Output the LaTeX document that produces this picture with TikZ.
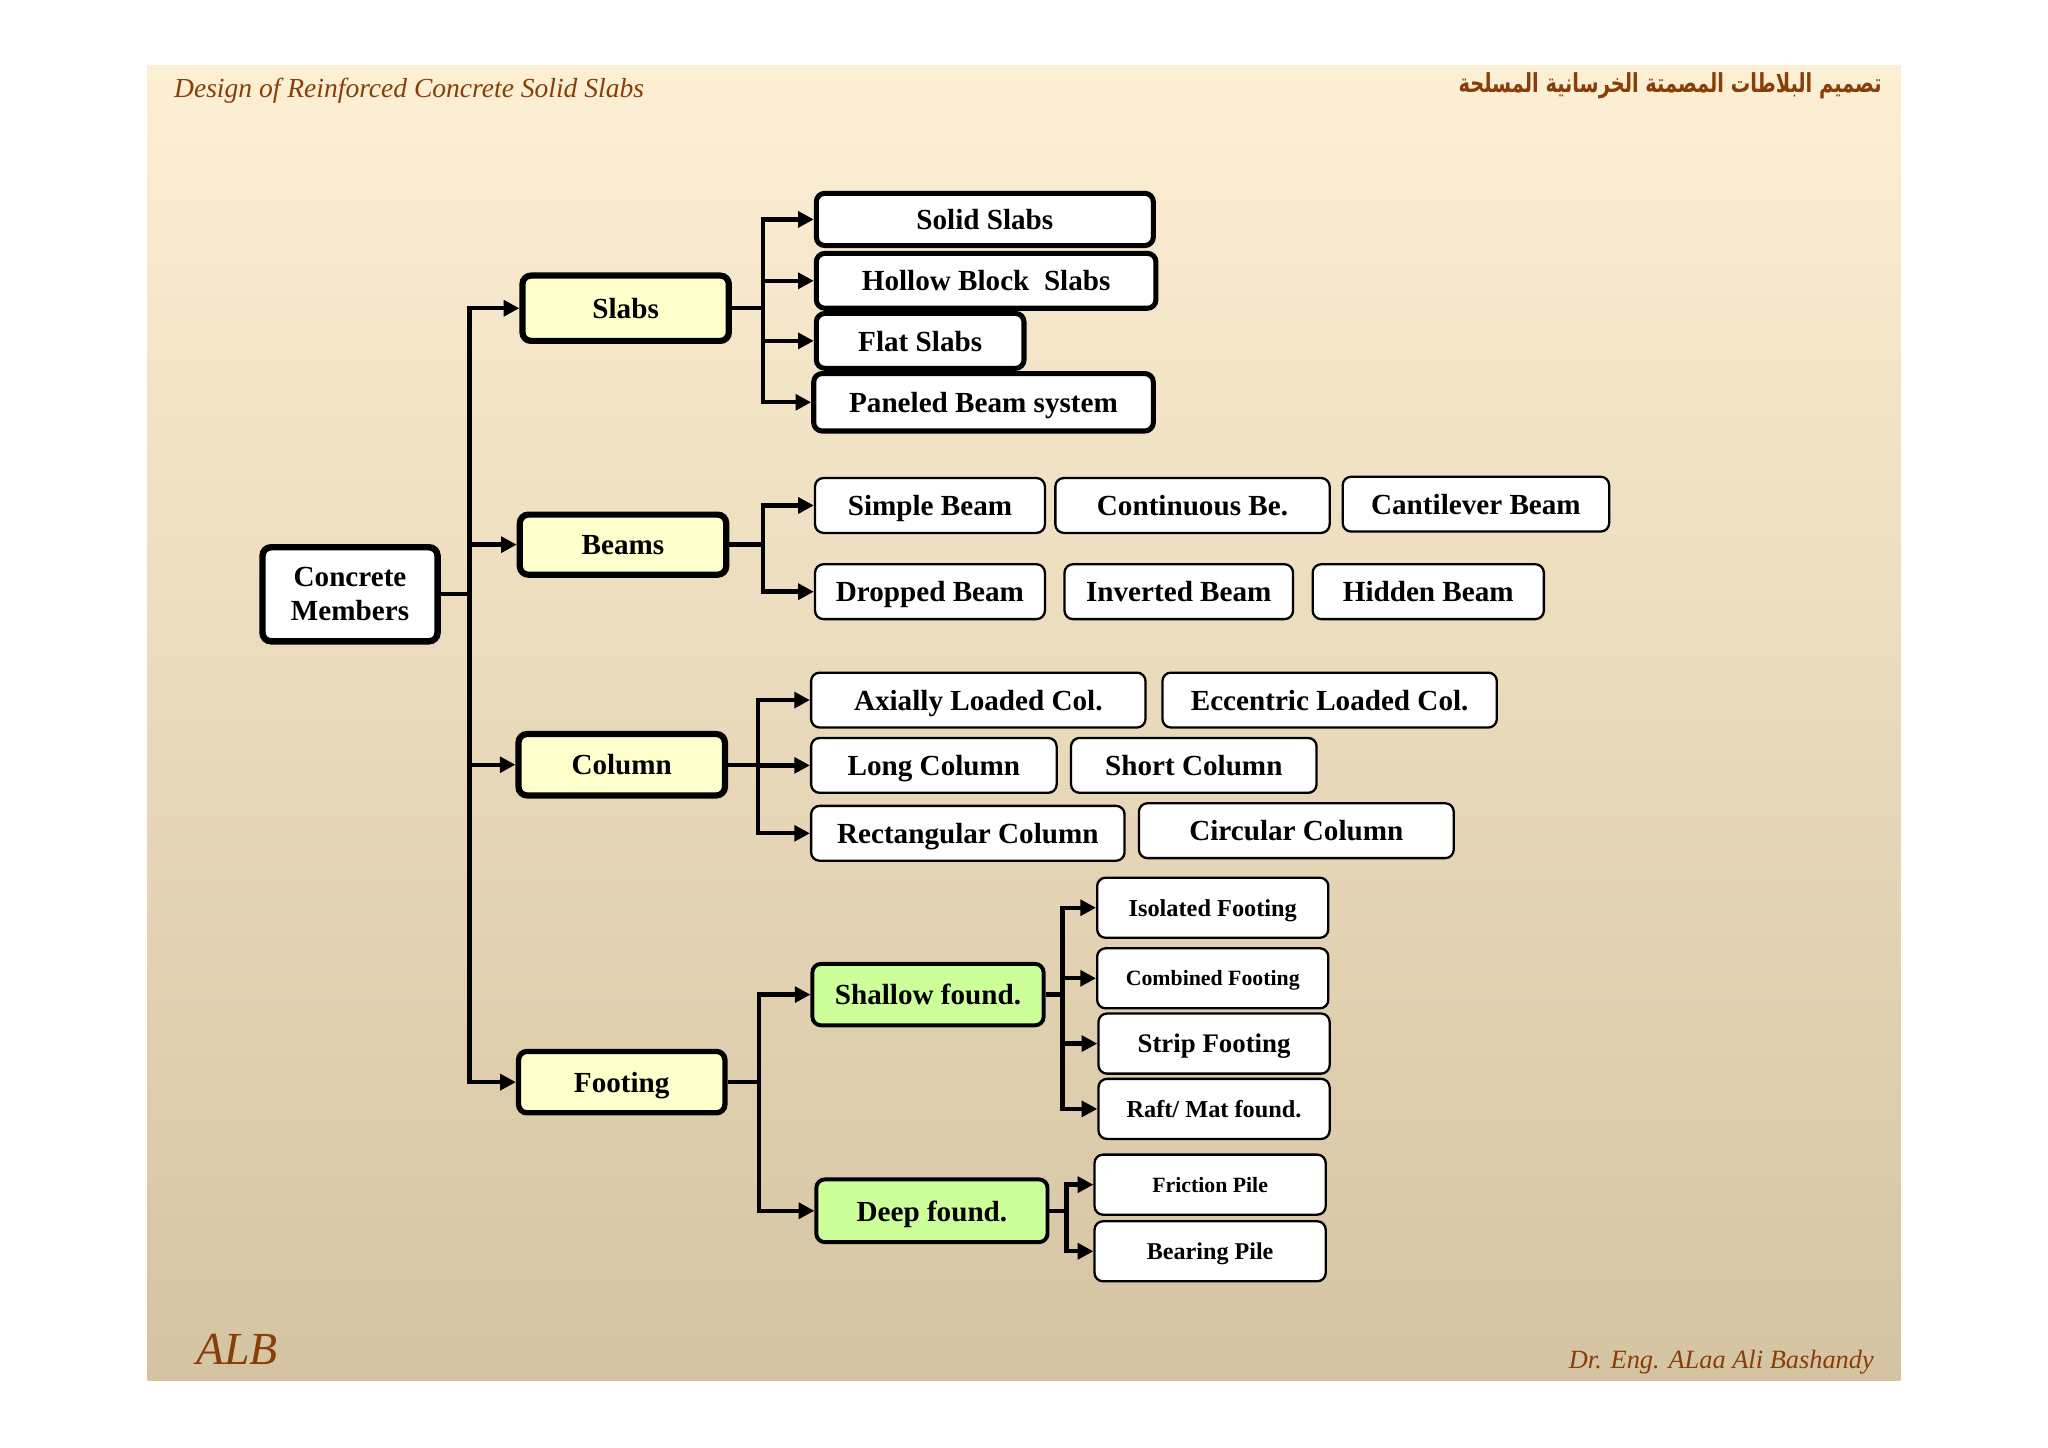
\documentclass[tikz,border=0pt]{standalone}
\usepackage{fontspec}
\usepackage{graphicx}
\setmainfont{Liberation Serif}
\newfontfamily\arabicfont[Script=Arabic]{DejaVu Sans}
\TeXXeTstate=1
\usetikzlibrary{arrows.meta}
\definecolor{bgtop}{RGB}{253,239,212}
\definecolor{bgmid}{RGB}{241,231,209}
\definecolor{bgbot}{RGB}{213,196,162}
\definecolor{yel}{RGB}{255,255,204}
\definecolor{grn}{RGB}{204,255,153}
\definecolor{brn}{RGB}{135,62,8}
\newcommand\placebox[7]{\node[#2, minimum width={(#5-#3)*0.02cm}, minimum height={(#6-#4)*0.02cm}] (#1) at ({(#3+#5)/2},{(#4+#6)/2}) {#7};}
\begin{document}
\begin{tikzpicture}[x=0.02cm,y=-0.02cm,
  basebox/.style={draw=black, inner sep=0pt, align=center, rounded corners=0.13cm,
    font=\bfseries\fontsize{12.7}{14.7}\selectfont},
  onebox/.style={basebox, text depth=0pt},
  mainbox/.style={basebox, fill=white, line width=2.8pt},
  lvlbox/.style={onebox, fill=yel, line width=2.7pt},
  footbox/.style={onebox, fill=yel, line width=2.3pt},
  slabbox/.style={onebox, fill=white, line width=2.2pt},
  thinbox/.style={onebox, fill=white, line width=1pt},
  grnbox/.style={onebox, fill=grn, line width=1.7pt},
  fsub/.style={onebox, fill=white, line width=1pt},
  conn/.style={draw=black, line width=1.9pt},
  arr/.style={conn, -{Triangle[length=0.24cm,width=0.24cm]}},
  hdr/.style={text=brn, inner sep=0pt}
]
\useasboundingbox (0,0) rectangle (1568,1108.6);
\fill[white] (0,0) rectangle (1568,1108.6);
\shade[top color=bgtop, middle color=bgmid, bottom color=bgbot] (113,50) rectangle (1455,1057);

% headers and footers
\node[hdr, anchor=base west, font=\itshape\fontsize{12}{14}\selectfont] (hdrL) at (133,75) {Design of Reinforced Concrete Solid Slabs};
\node[hdr, anchor=east] (hdrR) at (1441,66) {\scalebox{1}[1.35]{\resizebox{6.48cm}{!}{\arabicfont\bfseries\beginR تصميم البلاطات المصمتة الخرسانية المسلحة\endR}}};
\node[hdr, anchor=base west, font=\itshape\fontsize{20}{24}\selectfont] (alb) at (150,1045) {ALB};
\node[hdr, anchor=base east, font=\itshape\fontsize{11.5}{14}\selectfont] (auth) at (1435,1048) {Dr. Eng. ALaa Ali Bashandy};

% root and level 1
\placebox{cm}{mainbox}{201}{419}{335}{491}{Concrete\\Members}
\placebox{slabs}{lvlbox}{400}{211}{558}{261}{Slabs}
\placebox{beams}{lvlbox}{398}{394}{556}{440}{Beams}
\placebox{column}{lvlbox}{397}{562}{555}{609}{Column}
\placebox{footing}{footbox}{397}{805}{555}{852}{Footing}

% slabs children
\placebox{solid}{slabbox}{625}{148}{883}{188}{Solid Slabs}
\placebox{hollow}{slabbox}{625}{194}{885}{236}{Hollow Block\ \ Slabs}
\placebox{flat}{slabbox}{625}{240}{784}{282}{Flat Slabs}
\placebox{paneled}{slabbox}{623}{286}{883}{330}{Paneled Beam system}

% beams children
\placebox{simple}{thinbox}{624}{366}{800}{408}{Simple Beam}
\placebox{contin}{thinbox}{808}{366}{1018}{408}{Continuous Be.}
\placebox{cantil}{thinbox}{1028}{365}{1232}{407}{Cantilever Beam}
\placebox{dropped}{thinbox}{624}{432}{800}{474}{Dropped Beam}
\placebox{inverted}{thinbox}{815}{432}{990}{474}{Inverted Beam}
\placebox{hidden}{thinbox}{1005}{432}{1182}{474}{Hidden Beam}

% column children
\placebox{axial}{thinbox}{621}{515}{877}{557}{Axially Loaded Col.}
\placebox{eccen}{thinbox}{890}{515}{1146}{557}{Eccentric Loaded Col.}
\placebox{long}{thinbox}{621}{565}{809}{607}{Long Column}
\placebox{short}{thinbox}{820}{565}{1008}{607}{Short Column}
\placebox{rect}{thinbox}{621}{617}{861}{659}{Rectangular Column}
\placebox{circ}{thinbox}{872}{615}{1113}{657}{Circular Column}

% footing children
\placebox{shallow}{grnbox}{622}{738}{799}{785}{Shallow found.}
\placebox{deep}{grnbox}{625}{903}{802}{951}{Deep found.}

\placebox{isol}{fsub, font=\bfseries\fontsize{10.6}{12}\selectfont}{840}{672}{1017}{718}{Isolated Footing}
\placebox{comb}{fsub, font=\bfseries\fontsize{9.5}{11}\selectfont}{840}{726}{1017}{772}{Combined Footing}
\placebox{strip}{fsub, font=\bfseries\fontsize{11.7}{13}\selectfont}{841}{776}{1018}{822}{Strip Footing}
\placebox{raft}{fsub, font=\bfseries\fontsize{10.6}{12}\selectfont}{841}{826}{1018}{872}{Raft/ Mat found.}
\placebox{fric}{fsub, font=\bfseries\fontsize{9.5}{11}\selectfont}{838}{884}{1015}{930}{Friction Pile}
\placebox{bear}{fsub, font=\bfseries\fontsize{10.5}{12}\selectfont}{838}{935}{1015}{981}{Bearing Pile}

% connectors: root
\draw[conn] (cm.east) -- ++(22,0) coordinate (t0);
\draw[arr] (t0) |- (slabs.west);
\draw[arr] (t0) |- (beams.west);
\draw[arr] (t0) |- (column.west);
\draw[arr] (t0) |- (footing.west);

% slabs
\draw[conn] (slabs.east) -- ++(24,0) coordinate (t1);
\draw[arr] (t1) |- (solid.west);
\draw[arr] (t1) |- (hollow.west);
\draw[arr] (t1) |- (flat.west);
\draw[arr] (t1) |- (paneled.west);

% beams
\draw[conn] (beams.east) -- ++(26,0) coordinate (t2);
\draw[arr] (t2) |- (simple.west);
\draw[arr] (t2) |- (dropped.west);

% column
\draw[conn] (column.east) -- ++(23,0) coordinate (t3);
\draw[arr] (t3) |- (axial.west);
\draw[arr] (t3) |- (long.west);
\draw[arr] (t3) |- (rect.west);

% footing
\draw[conn] (footing.east) -- ++(24,0) coordinate (t4);
\draw[arr] (t4) |- (shallow.west);
\draw[arr] (t4) |- (deep.west);

% shallow
\draw[conn] (shallow.east) -- ++(13,0) coordinate (t5);
\draw[arr] (t5) |- (isol.west);
\draw[arr] (t5) |- (comb.west);
\draw[arr] (t5) |- (strip.west);
\draw[arr] (t5) |- (raft.west);

% deep
\draw[conn] (deep.east) -- ++(13,0) coordinate (t6);
\draw[arr] (t6) |- (fric.west);
\draw[arr] (t6) |- (bear.west);
\end{tikzpicture}
\end{document}
